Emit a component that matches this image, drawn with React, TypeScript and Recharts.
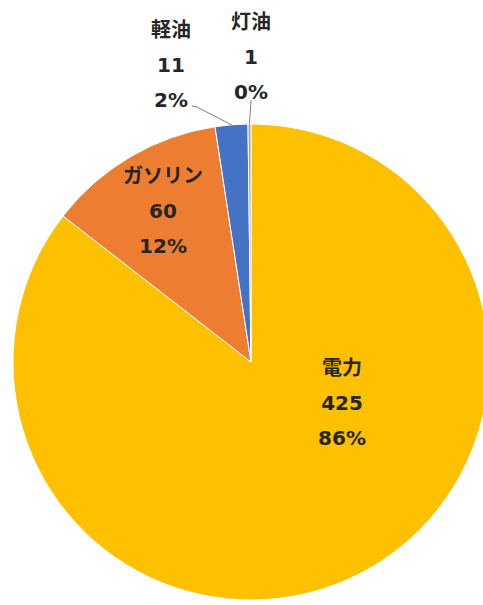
import { PieChart, Pie, Cell } from "recharts";

const NAMES = ["電力", "ガソリン", "軽油", "灯油"];
const VALUES = [425, 60, 11, 1];
const COLORS = ["#FFC000", "#ED7D31", "#4472C4", "#A5A5A5"];

// label centre offsets from the pie centre (middle line of the label)
const LABEL_OFFSETS = [
  { dx: 91, dy: 41, line: false },
  { dx: -88, dy: -151, line: false },
  { dx: -80, dy: -297, line: true },
  { dx: 0, dy: -305, line: true },
];

const data = NAMES.map((name, i) => ({ name, value: VALUES[i] }));
const RAD = Math.PI / 180;

function renderLabel(props: any) {
  const { cx, cy, midAngle, outerRadius, percent, index } = props;
  const off = LABEL_OFFSETS[index];
  const x = cx + off.dx;
  const y = cy + off.dy;
  const px = cx + outerRadius * Math.cos(-midAngle * RAD);
  const py = cy + outerRadius * Math.sin(-midAngle * RAD);
  let pts = "";
  if (off.line) {
    pts = index === 2 ? `${x + 21},${y + 41} ${x + 26},${y + 42} ${px},${py}` : `${x},${y + 43} ${px},${py}`;
  }
  const gap = 35;
  return (
    <g key={`lbl-${index}`}>
      {off.line && <polyline points={pts} fill="none" stroke="#7f7f7f" strokeWidth={1} />}
      <text
        x={x}
        y={y}
        textAnchor="middle"
        dominantBaseline="central"
        fill="#262626"
        fontSize={20}
        fontWeight="bold"
        fontFamily="'DejaVu Sans', 'Noto Sans CJK JP', sans-serif"
      >
        <tspan x={x} y={y - gap}>{NAMES[index]}</tspan>
        <tspan x={x} y={y}>{VALUES[index]}</tspan>
        <tspan x={x} y={y + gap}>{`${Math.round(percent * 100)}%`}</tspan>
      </text>
    </g>
  );
}

export default function App() {
  return (
    <div style={{ position: "absolute", left: 0, top: 0, width: 483, height: 605, background: "#fff" }}>
      <PieChart width={483} height={605} margin={{ top: 0, right: 0, bottom: 0, left: 0 }}>
        <Pie
          data={data}
          dataKey="value"
          nameKey="name"
          cx={251}
          cy={362}
          outerRadius={238}
          startAngle={90}
          endAngle={-270}
          stroke="#ffffff"
          strokeWidth={1}
          label={renderLabel}
          labelLine={false}
          isAnimationActive={false}
        >
          {data.map((_, i) => (
            <Cell key={i} fill={COLORS[i]} />
          ))}
        </Pie>
      </PieChart>
    </div>
  );
}
